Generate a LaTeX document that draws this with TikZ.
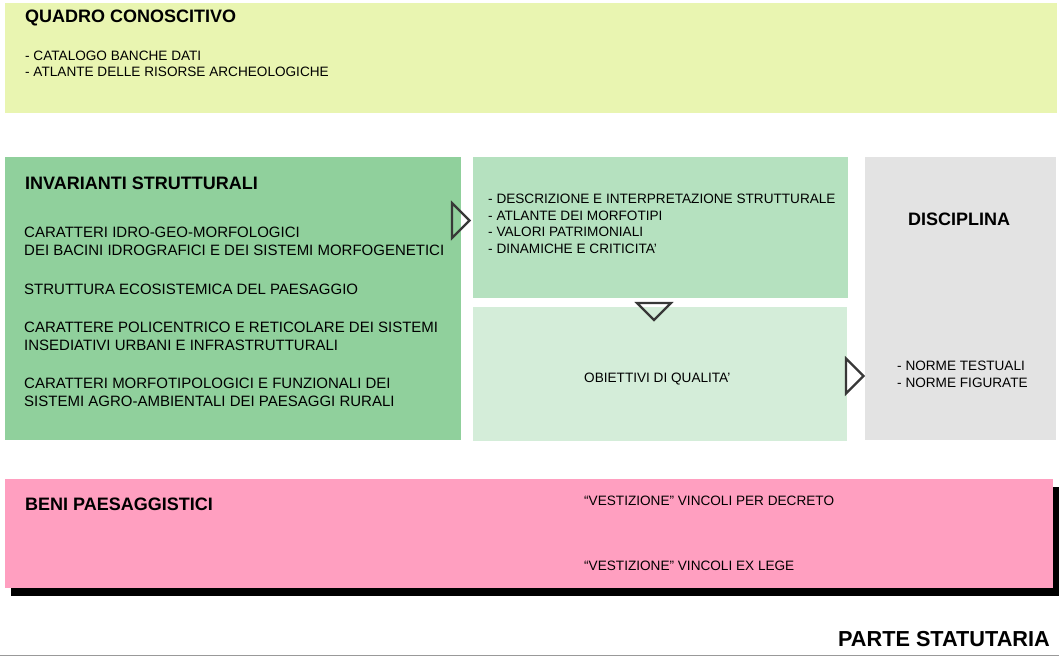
\documentclass[tikz,border=0pt]{standalone}
\usepackage{fontspec}
\setmainfont{Liberation Sans}
\definecolor{quadro}{HTML}{E9F5B1}
\definecolor{invar}{HTML}{90D09C}
\definecolor{descr}{HTML}{B5E1BF}
\definecolor{obiet}{HTML}{D4EDD9}
\definecolor{disci}{HTML}{E3E3E3}
\definecolor{beni}{HTML}{FF9FC0}
\definecolor{tri}{HTML}{383838}
\begin{document}
\begin{tikzpicture}[x=1pt,y=-1pt,
  panel/.style={anchor=north west,inner sep=0pt,outer sep=0pt},
  title/.style={anchor=west,inner sep=0pt,font=\fontsize{18}{21}\selectfont\bfseries},
  item/.style={anchor=west,inner sep=0pt,font=\fontsize{13.6}{16}\selectfont},
  bigitem/.style={anchor=west,inner sep=0pt,font=\fontsize{15}{18}\selectfont},
  tri/.style={draw=tri,line width=2.2pt,line join=miter}]
\useasboundingbox[fill=white] (0,0) rectangle (1059,656);
% panels
\node[panel,fill=quadro,minimum width=1052pt,minimum height=110pt] (quadro) at (5,3) {};
\node[panel,fill=invar,minimum width=456pt,minimum height=283pt] (invar) at (5,157) {};
\node[panel,fill=descr,minimum width=375pt,minimum height=141pt] (descr) at (473,157) {};
\node[panel,fill=obiet,minimum width=374pt,minimum height=134pt] (obiet) at (473,307) {};
\node[panel,fill=disci,minimum width=191pt,minimum height=283pt] (disci) at (865,157) {};
\node[panel,fill=black,minimum width=1048pt,minimum height=109pt] (benishadow) at (11,487) {};
\node[panel,fill=beni,minimum width=1048pt,minimum height=109pt] (beni) at (5,479) {};
% quadro conoscitivo
\node[title] (qtitle) at (25,18) {QUADRO CONOSCITIVO};
\node[item] (q1) at (25,56) {- CATALOGO BANCHE DATI};
\node[item] (q2) at (25,72) {- ATLANTE DELLE RISORSE ARCHEOLOGICHE};
% invarianti
\node[title] (ititle) at (25,183) {INVARIANTI STRUTTURALI};
\foreach \y/\t in {232.5/CARATTERI IDRO-GEO-MORFOLOGICI,
                   250.5/DEI BACINI IDROGRAFICI E DEI SISTEMI MORFOGENETICI,
                   289.5/STRUTTURA ECOSISTEMICA DEL PAESAGGIO,
                   327/CARATTERE POLICENTRICO E RETICOLARE DEI SISTEMI,
                   345/INSEDIATIVI URBANI E INFRASTRUTTURALI,
                   383/CARATTERI MORFOTIPOLOGICI E FUNZIONALI DEI,
                   401/SISTEMI AGRO-AMBIENTALI DEI PAESAGGI RURALI}
  \node[bigitem] (inv\y) at (24,\y) {\t};
% descrizione
\foreach \y/\t in {199/- DESCRIZIONE E INTERPRETAZIONE STRUTTURALE,
                   215.5/- ATLANTE DEI MORFOTIPI,
                   232/- VALORI PATRIMONIALI,
                   248.5/- DINAMICHE E CRITICITA'}
  \node[item] (des\y) at (488,\y) {\t};
\node[item] (obtext) at (584,379) {OBIETTIVI DI QUALITA'};
% disciplina
\node[title,anchor=center] (dtitle) at (959,219) {DISCIPLINA};
\node[item] (d1) at (897,366) {- NORME TESTUALI};
\node[item] (d2) at (897,383) {- NORME FIGURATE};
% beni paesaggistici
\node[title] (btitle) at (25,504) {BENI PAESAGGISTICI};
\node[item] (b1) at (584,501) {``VESTIZIONE'' VINCOLI PER DECRETO};
\node[item] (b2) at (584,566) {``VESTIZIONE'' VINCOLI EX LEGE};
\node[anchor=east,inner sep=0pt,font=\fontsize{21.7}{24}\selectfont\bfseries] (parte) at (1050,639) {PARTE STATUTARIA};
\draw[gray!80,line width=1.5pt] (0,655.5) -- (1059,655.5);
% triangles
\foreach \x/\y in {452/220.5,846/376}
  \draw[tri] (\x,\y-17.5) -- (\x+17.5,\y) -- (\x,\y+17.5) -- cycle;
\draw[tri] (637,303) -- (671,303) -- (654,320) -- cycle;
\end{tikzpicture}
\end{document}
